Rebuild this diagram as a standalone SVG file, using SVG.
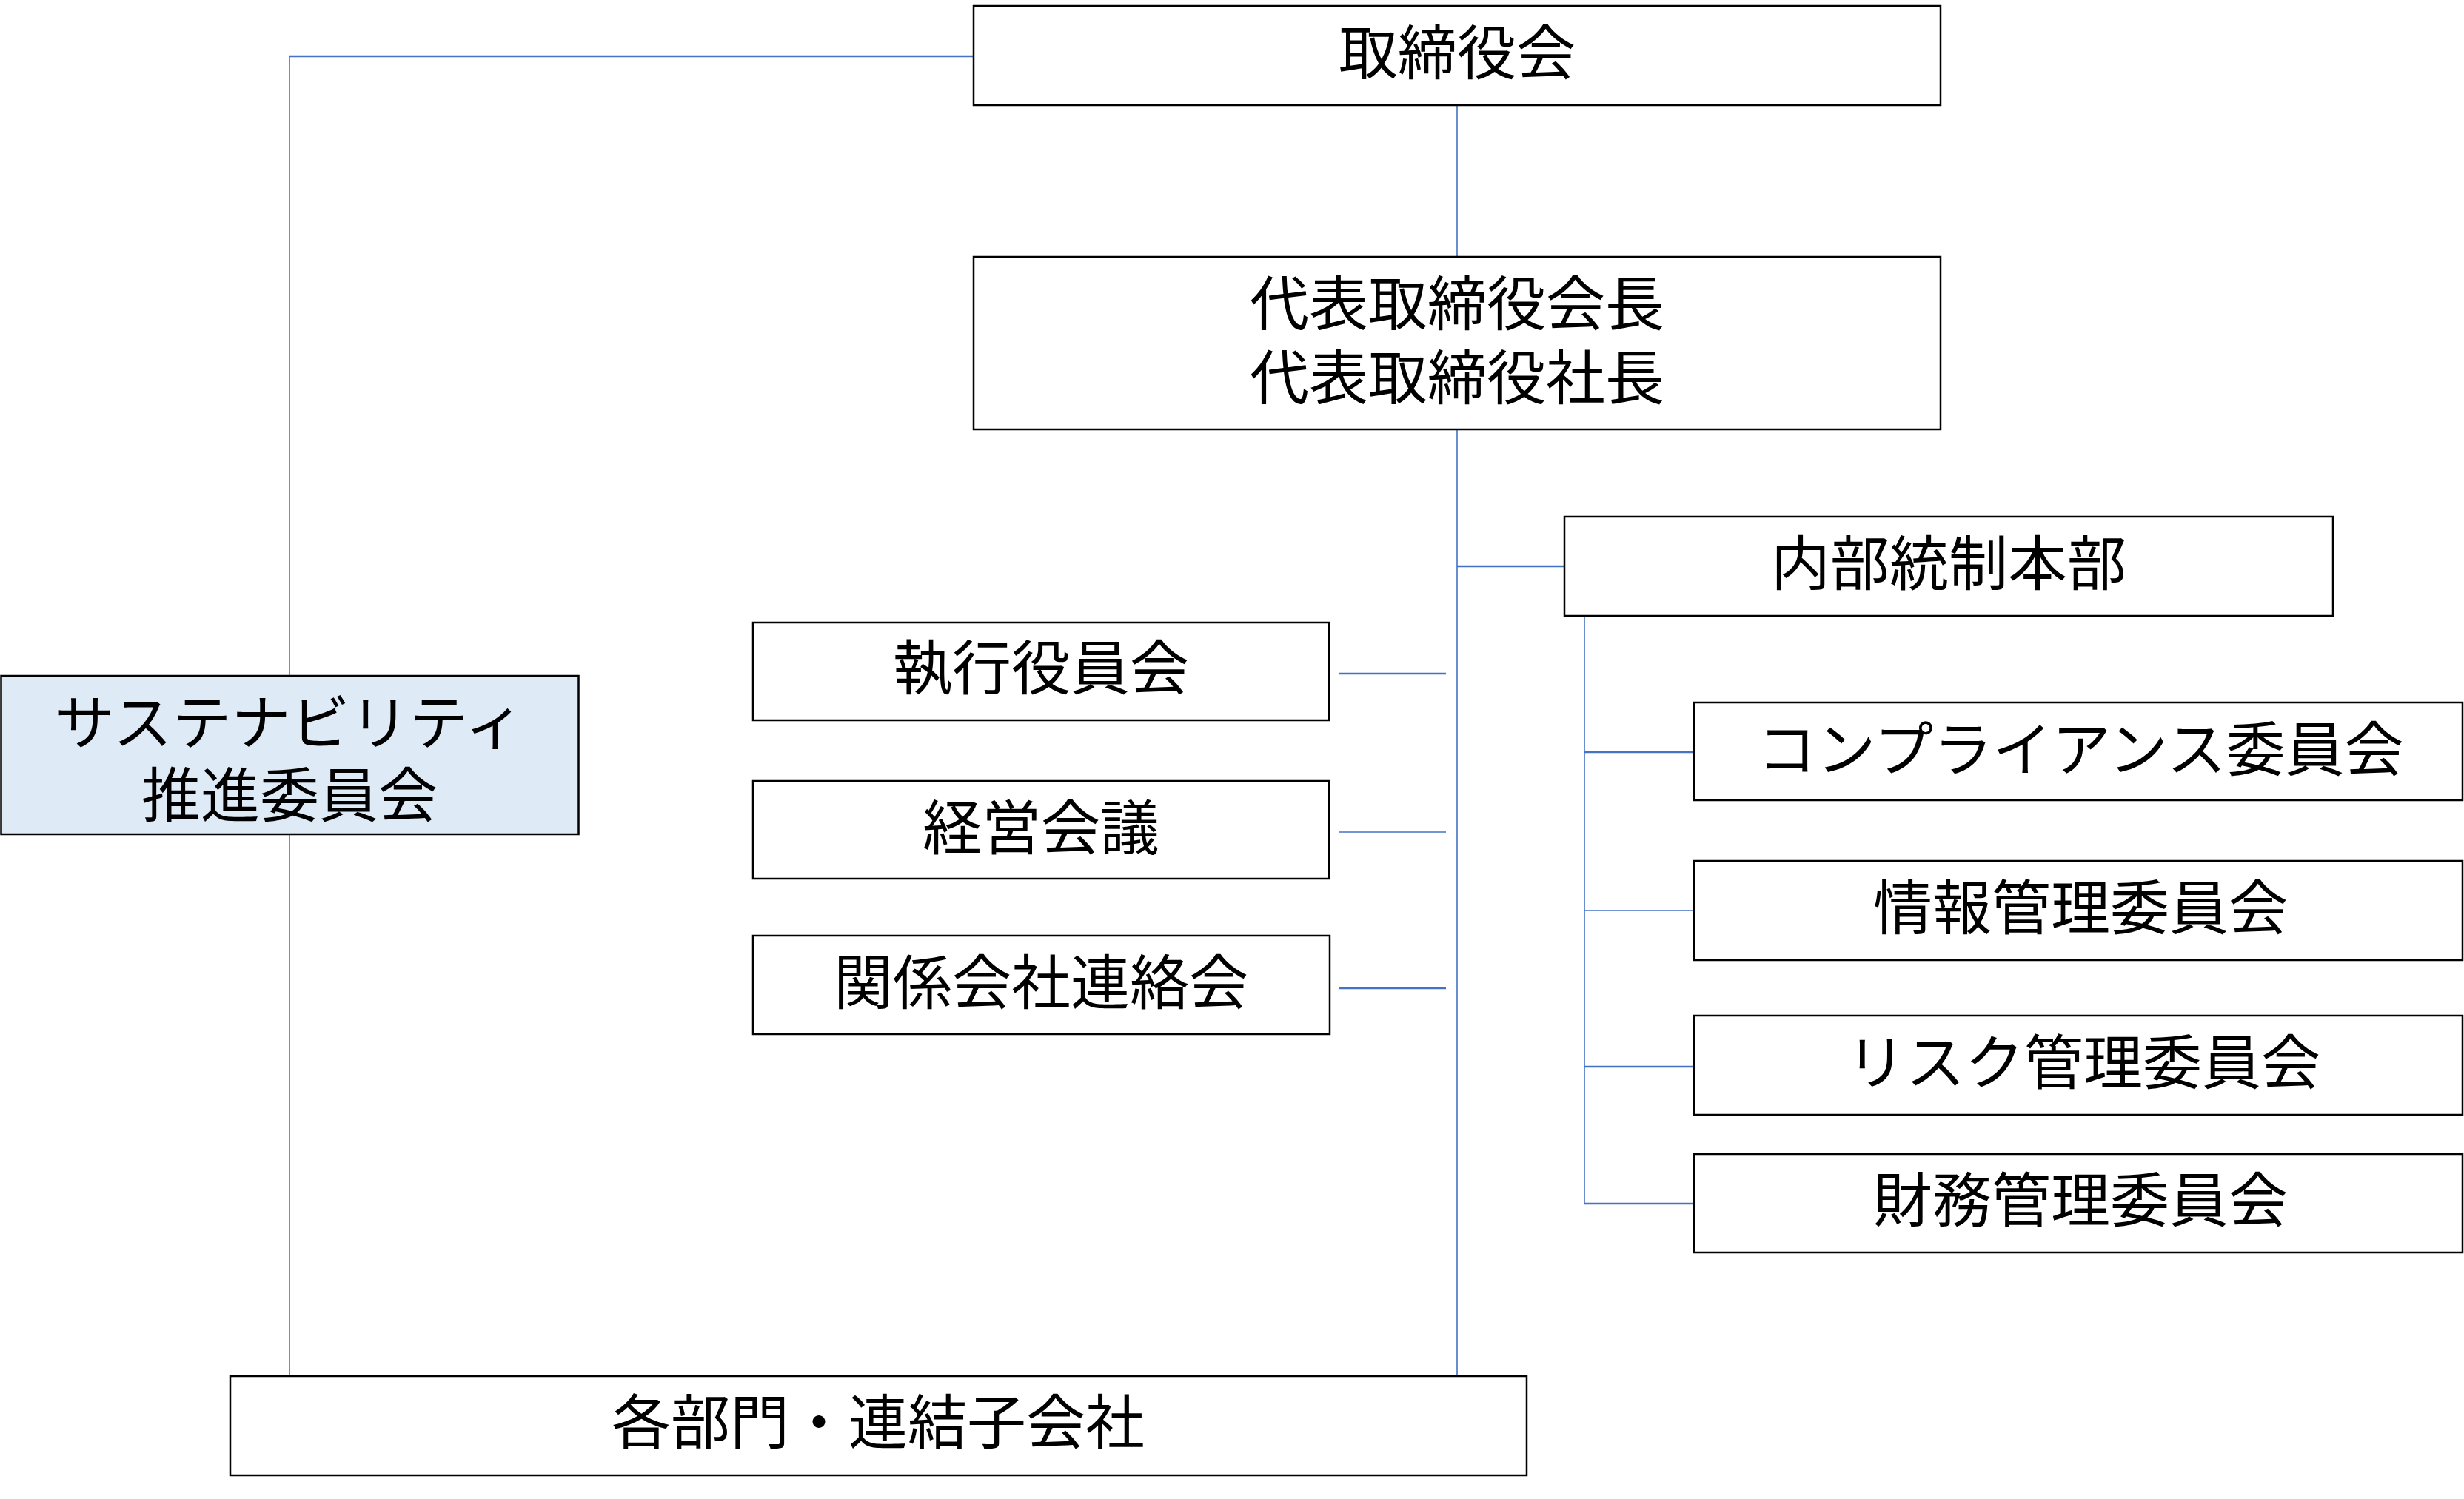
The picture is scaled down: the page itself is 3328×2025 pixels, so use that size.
<svg xmlns="http://www.w3.org/2000/svg" width="3328" height="2025" viewBox="0 0 3328 2025">
<style>
.box{fill:#ffffff;stroke:#000000;stroke-width:2.5}
.hl{fill:#DEEAF6}
.t{font-family:"Liberation Sans","Noto Sans CJK JP","Noto Sans CJK SC",sans-serif;font-size:80px;fill:#000000;text-anchor:middle}
.v{stroke:#4472C4;stroke-width:1.6;fill:none}
.h{stroke:#4472C4;stroke-width:2.6;fill:none}
</style>
<rect width="3328" height="2025" fill="#ffffff"/>
<g id="connectors">
<line class="h" x1="1314" y1="76" x2="391" y2="76"/>
<line class="v" x1="391" y1="76" x2="391" y2="913"/>
<line class="v" x1="391" y1="1127" x2="391" y2="1859"/>
<line class="v" x1="1968" y1="142" x2="1968" y2="347"/>
<line class="v" x1="1968" y1="580" x2="1968" y2="1859"/>
<line class="h" x1="1968" y1="765" x2="2112" y2="765"/>
<line class="v" x1="2140" y1="832" x2="2140" y2="1626"/>
<line class="h" x1="2140" y1="1016" x2="2288" y2="1016"/>
<line class="v" x1="2140" y1="1230" x2="2288" y2="1230"/>
<line class="h" x1="2140" y1="1441" x2="2288" y2="1441"/>
<line class="h" x1="2140" y1="1626" x2="2288" y2="1626"/>
<line class="h" x1="1808" y1="910" x2="1953" y2="910"/>
<line class="v" x1="1808" y1="1124" x2="1953" y2="1124"/>
<line class="h" x1="1808" y1="1335" x2="1953" y2="1335"/>
</g>
<g id="board">
<rect class="box" x="1315" y="8" width="1306" height="134"/>
<text class="t" x="1968" y="100">取締役会</text>
</g>
<g id="president">
<rect class="box" x="1315" y="347" width="1306" height="233"/>
<text class="t" x="1968" y="439">代表取締役会長</text>
<text class="t" x="1968" y="539">代表取締役社長</text>
</g>
<g id="internal-control">
<rect class="box" x="2113" y="698" width="1038" height="134"/>
<text class="t" x="2632" y="790">内部統制本部</text>
</g>
<g id="sustainability">
<rect class="box hl" x="1.5" y="913" width="780" height="214"/>
<text class="t" x="391" y="1005">サステナビリティ</text>
<text class="t" x="391" y="1103">推進委員会</text>
</g>
<g id="executive-officers">
<rect class="box" x="1017" y="841" width="778" height="132"/>
<text class="t" x="1406" y="931">執行役員会</text>
</g>
<g id="management-meeting">
<rect class="box" x="1017" y="1055" width="778" height="132"/>
<text class="t" x="1406" y="1147">経営会議</text>
</g>
<g id="affiliates-meeting">
<rect class="box" x="1017" y="1264" width="779" height="133"/>
<text class="t" x="1406" y="1356">関係会社連絡会</text>
</g>
<g id="compliance">
<rect class="box" x="2288" y="949" width="1038" height="132"/>
<text class="t" x="2810" y="1041">コンプライアンス委員会</text>
</g>
<g id="information">
<rect class="box" x="2288" y="1163" width="1038" height="134"/>
<text class="t" x="2810" y="1255">情報管理委員会</text>
</g>
<g id="risk">
<rect class="box" x="2288" y="1372" width="1038" height="134"/>
<text class="t" x="2814" y="1464">リスク管理委員会</text>
</g>
<g id="finance">
<rect class="box" x="2288" y="1559" width="1038" height="133"/>
<text class="t" x="2810" y="1650">財務管理委員会</text>
</g>
<g id="departments">
<rect class="box" x="311" y="1859" width="1751" height="134"/>
<text class="t" x="1186" y="1950">各部門・連結子会社</text>
</g>
</svg>
